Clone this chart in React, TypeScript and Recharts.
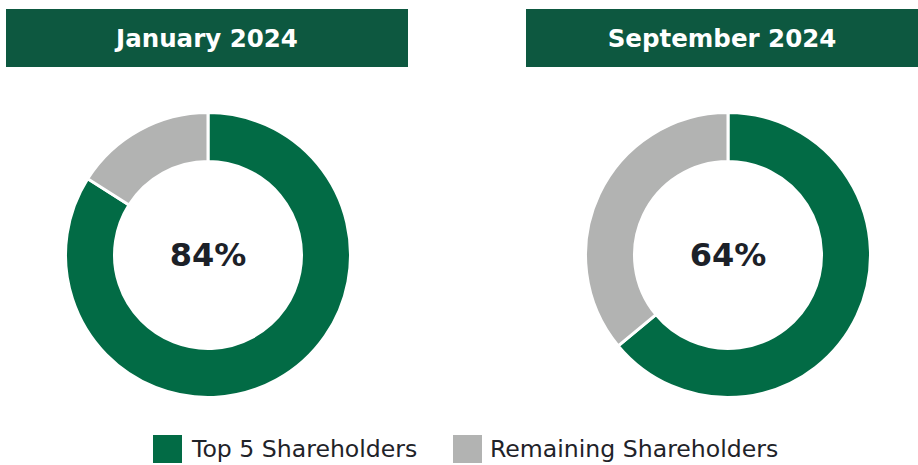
import React from 'react';
import { PieChart, Pie, Cell, Legend } from 'recharts';

const categories = ['Top 5 Shareholders', 'Remaining Shareholders'];
const periods = ['January 2024', 'September 2024'];
const top5Share = [84, 64];
const remainingShare = [16, 36];

const colors = ['#026b45', '#b2b3b2'];
const headerColor = '#0d5840';
const font = '"DejaVu Sans", Verdana, sans-serif';

const pieCenters = [208, 728];
const pieCy = 255;

const headerBoxes = [
  { left: 6, width: 402 },
  { left: 526, width: 392 },
];

const legendX = [153, 453];

function LegendContent() {
  return (
    <div style={{ position: 'relative', height: 28, fontFamily: font }}>
      {categories.map((c, i) => (
        <div key={c} style={{ position: 'absolute', left: legendX[i], top: 0, display: 'flex', alignItems: 'center' }}>
          <div style={{ width: 29, height: 28, background: colors[i], marginRight: i === 0 ? 10 : 8 }} />
          <span style={{ fontSize: 23.6, color: '#1f2329', lineHeight: '28px', whiteSpace: 'nowrap' }}>{c}</span>
        </div>
      ))}
    </div>
  );
}

function App() {
  return (
    <div style={{ position: 'absolute', left: 0, top: 0, width: 918, height: 465, background: '#fff' }}>
      {periods.map((p, i) => (
        <div
          key={p}
          style={{
            position: 'absolute',
            left: headerBoxes[i].left,
            top: 9,
            width: headerBoxes[i].width,
            height: 58,
            background: headerColor,
            color: '#fff',
            fontFamily: font,
            fontWeight: 'bold',
            fontSize: 24.5,
            display: 'flex',
            alignItems: 'center',
            justifyContent: 'center',
          }}
        >
          {p}
        </div>
      ))}
      <div style={{ position: 'absolute', left: 0, top: 0 }}>
        <PieChart width={918} height={465} margin={{ top: 0, right: 0, bottom: 0, left: 0 }}>
          {periods.map((p, i) => {
            const data = [
              { name: categories[0], value: top5Share[i] },
              { name: categories[1], value: remainingShare[i] },
            ];
            return (
              <Pie
                key={p}
                data={data}
                dataKey="value"
                nameKey="name"
                cx={pieCenters[i]}
                cy={pieCy}
                innerRadius={93.5}
                outerRadius={142.5}
                startAngle={90}
                endAngle={-270}
                stroke="#ffffff"
                strokeWidth={3}
                isAnimationActive={false}
              >
                {data.map((d, j) => (
                  <Cell key={d.name} fill={colors[j]} />
                ))}
              </Pie>
            );
          })}
          <Legend
            content={LegendContent}
            wrapperStyle={{ position: 'absolute', left: 0, top: 435, width: 918 }}
          />
        </PieChart>
      </div>
      {periods.map((p, i) => (
        <div
          key={`c-${p}`}
          style={{
            position: 'absolute',
            left: pieCenters[i] - 60,
            top: pieCy - 20,
            width: 120,
            height: 40,
            lineHeight: '40px',
            textAlign: 'center',
            fontFamily: font,
            fontWeight: 'bold',
            fontSize: 32,
            color: '#1c2128',
          }}
        >
          {`${top5Share[i]}%`}
        </div>
      ))}
    </div>
  );
}

export default App;
